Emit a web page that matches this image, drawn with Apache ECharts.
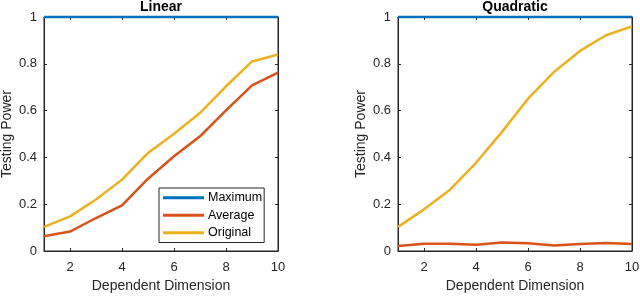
<!DOCTYPE html>
<html><head><meta charset="utf-8">
<script src="https://cdn.jsdelivr.net/npm/echarts@6/dist/echarts.min.js"></script>
<style>html,body{margin:0;padding:0;background:#fff}#c{width:640px;height:296px}</style>
</head><body><div id="c"></div>
<script>
const dims = [1,2,3,4,5,6,7,8,9,10];
const xTicks = [2,4,6,8,10];
const titles = ['Linear','Quadratic'];
const seriesNames = ['Maximum','Average','Original'];
const linearMaximum = [1,1,1,1,1,1,1,1,1,1];
const linearAverage = [0.063,0.083,0.141,0.195,0.309,0.405,0.490,0.601,0.708,0.762];
const linearOriginal = [0.103,0.148,0.220,0.305,0.419,0.501,0.590,0.704,0.810,0.840];
const quadMaximum = [1,1,1,1,1,1,1,1,1,1];
const quadAverage = [0.021,0.031,0.031,0.027,0.036,0.033,0.023,0.030,0.034,0.030];
const quadOriginal = [0.103,0.178,0.262,0.377,0.509,0.651,0.765,0.855,0.922,0.960];

const colors = ['#0072BD','#D95319','#EDB120'];
const FONT = 'Liberation Sans';
const AX = '#262626';
const pair = (xs, ys) => xs.map((x,i)=>[x, ys[i]]);
const grids = [
  {left:44, top:17, width:234, height:234, show:true, borderColor:AX, borderWidth:1, outerBoundsMode:'none', containLabel:false},
  {left:398, top:17, width:234, height:234, show:true, borderColor:AX, borderWidth:1, outerBoundsMode:'none', containLabel:false}
];
const xAxes = [], yAxes = [];
[0,1].forEach(g=>{
  xAxes.push({type:'value', gridIndex:g, min:1, max:10, position:'bottom',
    name:'Dependent Dimension', nameLocation:'middle', nameGap:27,
    nameTextStyle:{fontFamily:FONT, fontSize:14, color:AX},
    axisLine:{show:true, onZero:false, lineStyle:{color:AX}},
    axisTick:{show:true, inside:true, length:3, customValues:xTicks, lineStyle:{color:AX}},
    axisLabel:{show:true, customValues:xTicks, fontFamily:FONT, fontSize:13, color:AX, margin:10},
    splitLine:{show:false}});
  xAxes.push({type:'value', gridIndex:g, min:1, max:10, position:'top',
    axisLine:{show:true, onZero:false, lineStyle:{color:AX}},
    axisTick:{show:true, inside:true, length:3, customValues:xTicks, lineStyle:{color:AX}},
    axisLabel:{show:false}, splitLine:{show:false}});
  yAxes.push({type:'value', gridIndex:g, min:0, max:1, interval:0.2, position:'left',
    name:'Testing Power', nameLocation:'middle', nameGap:30,
    nameTextStyle:{fontFamily:FONT, fontSize:14, color:AX},
    axisLine:{show:true, onZero:false, lineStyle:{color:AX}},
    axisTick:{show:true, inside:true, length:3, lineStyle:{color:AX}},
    axisLabel:{show:true, fontFamily:FONT, fontSize:13, color:AX, margin:7},
    splitLine:{show:false}});
  yAxes.push({type:'value', gridIndex:g, min:0, max:1, interval:0.2, position:'right',
    axisLine:{show:true, onZero:false, lineStyle:{color:AX}},
    axisTick:{show:true, inside:true, length:3, lineStyle:{color:AX}},
    axisLabel:{show:false}, splitLine:{show:false}});
});
const data = [[linearMaximum, linearAverage, linearOriginal],[quadMaximum, quadAverage, quadOriginal]];
const series = [];
[0,1].forEach(g=>{
  data[g].forEach((ys,k)=>{
    series.push({type:'line', name:seriesNames[k], xAxisIndex:g*2, yAxisIndex:g*2,
      data:pair(dims, ys), symbol:'none', smooth:false, clip:false,
      lineStyle:{color:colors[k], width:2.5}, itemStyle:{color:colors[k]},
      z: 3, animation:false});
  });
});
const chart = echarts.init(document.getElementById('c'), null, {renderer:'canvas'});
chart.setOption({
  animation:false,
  textStyle:{fontFamily:FONT},
  title: titles.map((t,i)=>({text:t, left: grids[i].left + grids[i].width/2, top:0, padding:0, textAlign:'center',
    textStyle:{fontFamily:FONT, fontSize:14, fontWeight:'bold', color:'#000', lineHeight:14}})),
  grid: grids, xAxis: xAxes, yAxis: yAxes,
  legend:{data:seriesNames, orient:'vertical', left:159, top:188, padding:[1,2,1,4],
    icon:'rect', itemWidth:41, itemHeight:3, itemGap:0, backgroundColor:'#fff',
    borderColor:AX, borderWidth:1, borderRadius:0,
    textStyle:{fontFamily:FONT, fontSize:12.5, color:'#000', lineHeight:17.5, padding:[0,0,0,-1]},
    selectedMode:false},
  series: series
});
</script></body></html>
